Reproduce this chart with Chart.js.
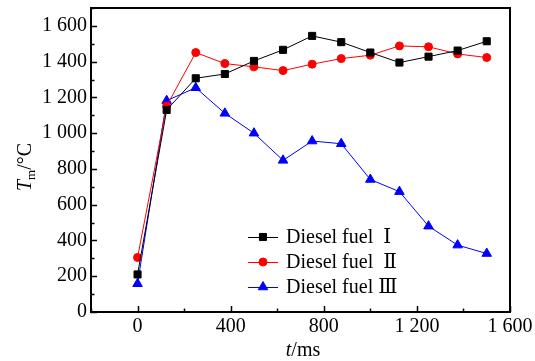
<!DOCTYPE html>
<html>
<head>
<meta charset="utf-8">
<script src="https://cdn.jsdelivr.net/npm/chart.js@4/dist/chart.umd.min.js"></script>
<style>
  html, body { margin: 0; padding: 0; background: #fff; }
  #wrap { width: 535px; height: 361px; }
</style>
</head>
<body>
<div id="wrap"><canvas id="chart"></canvas></div>
<script>
// time (ms)
const times = [0, 125, 250, 375, 500, 625, 750, 875, 1000, 1125, 1250, 1375, 1500];
// Tm (°C) per fuel
const fuel1 = [210, 1130, 1307, 1331, 1404, 1466, 1544, 1509, 1451, 1395, 1428, 1462, 1514];
const fuel2 = [305, 1152, 1451, 1389, 1371, 1350, 1386, 1417, 1436, 1488, 1483, 1443, 1423];
const fuel3 = [158, 1182, 1254, 1111, 1000, 848, 956, 941, 741, 673, 480, 374, 327];
const seriesNames = ['Diesel fuel  \u2160', 'Diesel fuel  \u2161', 'Diesel fuel \u2162'];

const xTicks = [0, 400, 800, 1200, 1600];
const yTicks = [0, 200, 400, 600, 800, 1000, 1200, 1400, 1600];

const FONT = '"Liberation Serif", "DejaVu Serif", serif';

function fmt(v) {
    // thousands separated by a space, like "1 600"
    return v >= 1000 ? Math.floor(v / 1000) + ' ' + String(v % 1000).padStart(3, '0') : String(v);
}

function toPoints(vals) {
    return times.map((t, i) => ({ x: t, y: vals[i] }));
}

// no extra room for edge labels, the plot box is fixed by layout padding
function noPad(s) {
    s.paddingTop = 0;
    s.paddingBottom = 0;
    s.paddingLeft = 0;
    s.paddingRight = 0;
}

// frame, inward ticks, axis titles and the legend inside the plot
const decorations = {
    id: 'decorations',
    afterDraw(chart) {
        const ctx = chart.ctx;
        const a = chart.chartArea;
        const xs = chart.scales.x;
        const ys = chart.scales.y;
        ctx.save();

        // ticks (major every 200/400, minor halfway)
        ctx.strokeStyle = '#000';
        ctx.lineWidth = 1.5;
        ctx.beginPath();
        for (let v = -200; v <= 1600; v += 200) {
            const px = Math.round(xs.getPixelForValue(v)) + 0.5;
            const len = (v % 400 === 0) ? 6 : 3.5;
            ctx.moveTo(px, a.bottom);
            ctx.lineTo(px, a.bottom - len);
        }
        for (let v = 0; v <= 1700; v += 100) {
            const py = Math.round(ys.getPixelForValue(v)) + 0.5;
            const len = (v % 200 === 0) ? 6 : 3.5;
            ctx.moveTo(a.left, py);
            ctx.lineTo(a.left + len, py);
        }
        ctx.stroke();

        // frame
        ctx.lineWidth = 2;
        ctx.strokeRect(a.left, a.top, a.right - a.left, a.bottom - a.top);

        // x title: t/ms
        ctx.fillStyle = '#000';
        ctx.textBaseline = 'alphabetic';
        ctx.font = 'italic 20px ' + FONT;
        const tW = ctx.measureText('t').width;
        ctx.font = '20px ' + FONT;
        const restW = ctx.measureText('/ms').width;
        let x0 = 303 - (tW + restW) / 2;
        ctx.font = 'italic 20px ' + FONT;
        ctx.textAlign = 'left';
        ctx.fillText('t', x0, 356);
        ctx.font = '20px ' + FONT;
        ctx.fillText('/ms', x0 + tW, 356);

        // y title: T_m/°C rotated
        ctx.translate(31, 167);
        ctx.rotate(-Math.PI / 2);
        ctx.font = 'italic 20px ' + FONT;
        const TW = ctx.measureText('T').width;
        ctx.font = '13px ' + FONT;
        const mW = ctx.measureText('m').width;
        ctx.font = '20px ' + FONT;
        const cW = ctx.measureText('/\u00b0C').width;
        let y0 = -(TW + mW + cW) / 2;
        ctx.font = 'italic 20px ' + FONT;
        ctx.fillText('T', y0, 0);
        ctx.font = '13px ' + FONT;
        ctx.fillText('m', y0 + TW, 4);
        ctx.font = '20px ' + FONT;
        ctx.fillText('/\u00b0C', y0 + TW + mW, 0);
        ctx.setTransform(1, 0, 0, 1, 0, 0);

        // legend
        const rows = [237, 262, 287];
        chart.data.datasets.forEach((ds, i) => {
            const y = rows[i];
            ctx.strokeStyle = ds.borderColor;
            ctx.lineWidth = 1;
            ctx.beginPath();
            ctx.moveTo(248, y + 0.5);
            ctx.lineTo(278, y + 0.5);
            ctx.stroke();
            ctx.fillStyle = ds.backgroundColor;
            Chart.helpers.drawPoint(ctx, {
                pointStyle: ds.pointStyle,
                radius: ds.pointRadius,
                borderWidth: 1
            }, 263, y);
            ctx.fillStyle = '#000';
            ctx.font = '20px ' + FONT;
            ctx.textAlign = 'left';
            ctx.textBaseline = 'middle';
            ctx.fillText(ds.label, 286, y + 1);
        });
        ctx.restore();
    }
};

function makeSet(label, vals, color, style, r) {
    return {
        label: label,
        data: toPoints(vals),
        borderColor: color,
        backgroundColor: color,
        pointBackgroundColor: color,
        pointBorderColor: color,
        pointStyle: style,
        pointRadius: r,
        borderWidth: 1,
        pointBorderWidth: 1,
        tension: 0
    };
}

new Chart(document.getElementById('chart'), {
    type: 'line',
    data: {
        datasets: [
            makeSet(seriesNames[0], fuel1, '#000000', 'rect', 5),
            makeSet(seriesNames[1], fuel2, '#ff0000', 'circle', 4),
            makeSet(seriesNames[2], fuel3, '#0000ff', 'triangle', 5.5)
        ]
    },
    options: {
        responsive: true,
        maintainAspectRatio: false,
        animation: false,
        layout: { padding: { top: 8, right: 25, left: 0, bottom: 0 } },
        plugins: { legend: { display: false }, tooltip: { enabled: false } },
        scales: {
            x: {
                type: 'linear',
                min: -200,
                max: 1600,
                afterBuildTicks: s => { s.ticks = xTicks.map(v => ({ value: v })); },
                afterFit: s => { s.height = 49; noPad(s); },
                grid: { display: false, drawTicks: false },
                border: { display: false },
                ticks: {
                    color: '#000',
                    font: { family: FONT, size: 20 },
                    padding: 3,
                    maxRotation: 0,
                    callback: v => fmt(v)
                }
            },
            y: {
                type: 'linear',
                min: 0,
                max: 1700,
                afterBuildTicks: s => { s.ticks = yTicks.map(v => ({ value: v })); },
                afterFit: s => { s.width = 91; noPad(s); },
                grid: { display: false, drawTicks: false },
                border: { display: false },
                ticks: {
                    color: '#000',
                    font: { family: FONT, size: 20 },
                    padding: 4,
                    callback: v => fmt(v)
                }
            }
        }
    },
    plugins: [decorations]
});
</script>
</body>
</html>
